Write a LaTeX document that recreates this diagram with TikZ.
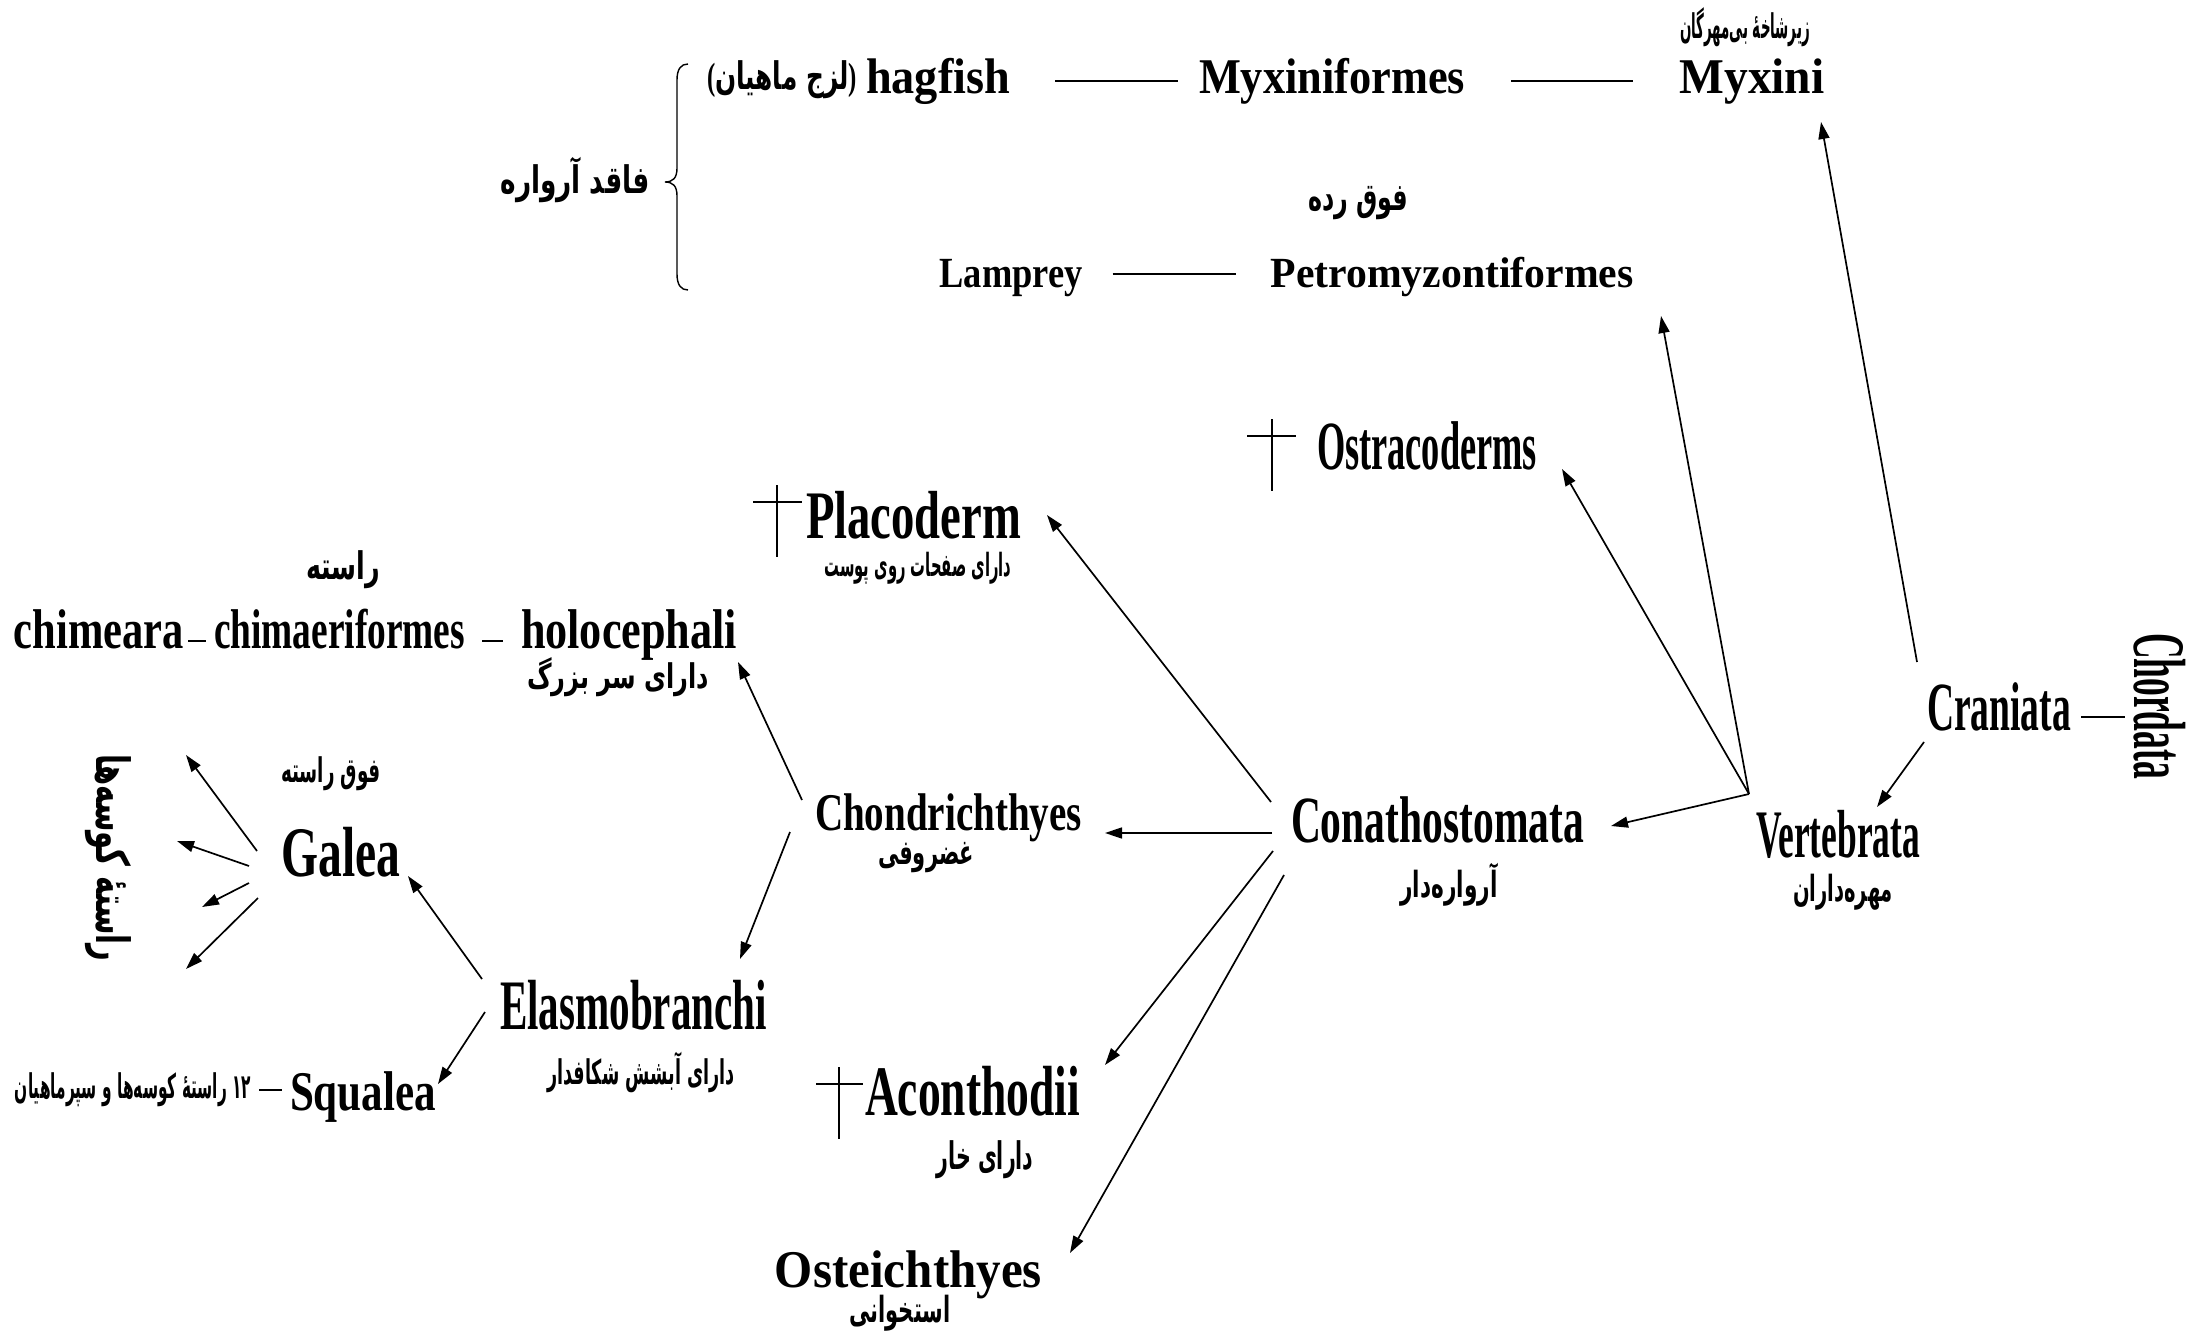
\documentclass[tikz,border=0pt]{standalone}
\usepackage{fontspec}
\usepackage{graphicx}
\setmainfont{Liberation Serif}
\newfontfamily\fa[Script=Arabic]{DejaVu Sans}
\TeXXeTstate=1
\usetikzlibrary{arrows.meta,calc}
\newcommand\LT[3]{\resizebox{#1pt}{\height}{\fontsize{#2pt}{#2pt}\selectfont\bfseries #3}}
\newcommand\FA[3]{\resizebox{#1pt}{\height}{\fontsize{#2pt}{#2pt}\selectfont\fa\bfseries #3}}
\begin{document}
\begin{tikzpicture}[x=1pt,y=-1pt,
  every node/.style={inner sep=0pt,outer sep=0pt},
  lat/.style={anchor=base},
  fan/.style={anchor=center},
  arr/.style={line width=1.7pt,-{Triangle[length=17pt,width=11pt]}},
  ln/.style={line width=1.7pt},
  dsh/.style={line width=2.4pt},
  dag/.style={line width=1.4pt}]
\fill[white] (0,0) rectangle (2201,1335);
\useasboundingbox (0,0) rectangle (2201,1335);

% top rows
\node[fan] (myxfa) at (1745,27) {\FA{130}{34}{\beginR زیرشاخهٔ بی^^^^200cمهرگان\endR}};
\node[lat] (myxini) at (1752,94) {\LT{145}{50}{Myxini}};
\node[lat] (myxif) at (1332,94) {\LT{266}{50}{Myxiniformes}};
\node[lat] (hagfish) at (938,94) {\LT{144}{50}{hagfish}};
\node[fan] (lazej) at (782,80) {\FA{150}{38}{{\rmfamily\bfseries (}\beginR لزج ماهیان\endR{\rmfamily\bfseries )}}};
\node[fan] (faghed) at (575,180) {\FA{149}{38}{\beginR فاقد آرواره\endR}};
\node[fan] (foghrade) at (1358,203) {\FA{100}{38}{\beginR فوق رده\endR}};
\node[lat] (lamprey) at (1011,287) {\LT{143}{43}{Lamprey}};
\node[lat] (petro) at (1452,287) {\LT{363}{43}{Petromyzontiformes}};

\draw[ln] ($(hagfish.base east)+(45,-13)$) -- ($(myxif.base west)+(-21,-13)$);
\draw[ln] ($(myxif.base east)+(46,-13)$) -- ($(myxini.base west)+(-47,-13)$);
\draw[ln] ($(lamprey.base east)+(30,-13)$) -- ($(petro.base west)+(-35,-13)$);

% brace
\draw[line width=1.4pt] (688,64) .. controls (681,64) and (677,69) .. (677,80)
  -- (677,168) .. controls (677,178) and (673,182) .. (665,182)
  .. controls (673,182) and (677,186) .. (677,196)
  -- (677,274) .. controls (677,285) and (681,290) .. (688,290);

% right part
\node[lat] (ostraco) at (1427,469) {\LT{220}{69}{Ostracoderms}};
\node[lat] (craniata) at (1999,730) {\LT{144}{69}{Craniata}};
\node[fan,rotate=-90] (chordata) at (2160,706) {\LT{146}{74}{Chordata}};
\node[lat] (vertebrata) at (1838,857) {\LT{164}{68}{Vertebrata}};
\node[fan] (mohredar) at (1843,892) {\FA{100}{36}{\beginR مهره^^^^200cداران\endR}};
\node[lat] (conat) at (1437.5,842) {\LT{293}{66}{Conathostomata}};
\node[fan] (arvaredar) at (1449,885) {\FA{97}{36}{\beginR آرواره^^^^200cدار\endR}};
\coordinate (hub) at (1749,794);

\draw[ln] ($(craniata.base)+(82,-13)$) -- ($(chordata.center)+(-35,11)$);
\draw[arr] ($(craniata.base)+(-82,-68)$) -- ($(myxini.base)+(69,28)$);
\draw[arr] ($(craniata.base)+(-75,12)$) -- ($(vertebrata.base)+(39,-50)$);
\draw[arr] (hub) -- ($(petro.base)+(209,29)$);
\draw[arr] (hub) -- ($(ostraco.base)+(135,0)$);
\draw[arr] (hub) -- ($(conat.base)+(173.5,-16)$);

% daggers
\draw[dag] (1272,419) -- (1272,491) (1247,436) -- (1296,436);
\draw[dag] (777,485) -- (777,557) (753,502) -- (802,502);
\draw[dag] (839,1067) -- (839,1139) (816,1084) -- (863,1084);

% middle
\node[lat] (placo) at (913.5,538) {\LT{215}{68}{Placoderm}};
\node[fan] (sofhe) at (918,568) {\FA{187}{32}{\beginR دارای صفحات روی پوست\endR}};
\node[lat] (chond) at (948.5,830) {\LT{267}{53}{Chondrichthyes}};
\node[fan] (ghozr) at (926,858) {\FA{96}{34}{\beginR غضروفی\endR}};
\node[lat] (acon) at (972.5,1115) {\LT{215}{71}{Aconthodii}};
\node[fan] (khar) at (985,1160) {\FA{97}{38}{\beginR دارای خار\endR}};
\node[lat] (oste) at (908.5,1287) {\LT{267}{53}{Osteichthyes}};
\node[fan] (ostkh) at (900,1313) {\FA{101}{36}{\beginR استخوانی\endR}};

\draw[arr] ($(conat.base)+(-166.5,-40)$) -- ($(placo.base)+(133.5,-23)$);
\draw[arr] ($(conat.base)+(-165.5,-9)$) -- ($(chond.base)+(156.5,3)$);
\draw[arr] ($(conat.base)+(-164.5,9)$) -- ($(acon.base)+(132.5,-50)$);
\draw[arr] ($(conat.base)+(-153.5,33)$) -- ($(oste.base)+(161.5,-34)$);

% left part
\node[fan] (raste) at (343,570) {\FA{74}{38}{\beginR راسته\endR}};
\node[lat] (chimeara) at (99,648) {\LT{170}{56}{chimeara}};
\node[lat] (chimaer) at (339.5,648) {\LT{251}{56}{chimaeriformes}};
\node[lat] (holo) at (629,648) {\LT{216}{56}{holocephali}};
\node[fan] (saraz) at (618,677) {\FA{182}{34}{\beginR دارای سر بزرگ\endR}};
\draw[dsh] ($(chimeara.base east)+(4,-7)$) -- ($(chimaer.base west)+(-8,-7)$);
\draw[dsh] ($(chimaer.base east)+(17,-7)$) -- ($(holo.base west)+(-18,-7)$);

\node[fan] (foghraste) at (331,774) {\FA{100}{34}{\beginR فوق راسته\endR}};
\node[lat] (galea) at (341,876) {\LT{119}{71}{Galea}};
\node[fan,rotate=-90] (kusevert) at (108,858) {\FA{207}{46}{\beginR راستهٔ کوسه^^^^200cها\endR}};
\node[lat] (elas) at (633.5,1029) {\LT{267}{71}{Elasmobranchi}};
\node[fan] (abshesh) at (641,1072) {\FA{187}{34}{\beginR دارای آبشش شکافدار\endR}};
\node[lat] (squalea) at (363,1110) {\LT{146}{56}{Squalea}};
\node[fan] (kuse) at (133,1090) {\FA{236}{34}{\beginR ۱۲ راستهٔ کوسه^^^^200cها و سپرماهیان\endR}};
\draw[ln] ($(kuse.east)+(8,0)$) -- ($(squalea.base west)+(-8,-20)$);

\draw[arr] ($(chond.base)+(-146.5,-30)$) -- ($(holo.base)+(109,14)$);
\draw[arr] ($(chond.base)+(-158.5,2)$) -- ($(elas.base)+(106.5,-70)$);

\coordinate (ga) at (186,755);
\coordinate (gb) at (177,841);
\coordinate (gc) at (202,907);
\coordinate (gd) at (186,969);
\draw[arr] ($(galea.base)+(-84,-25)$) -- (ga);
\draw[arr] ($(galea.base)+(-92,-10)$) -- (gb);
\draw[arr] ($(galea.base)+(-92,7)$) -- (gc);
\draw[arr] ($(galea.base)+(-83,22)$) -- (gd);

\draw[arr] ($(elas.base)+(-151.5,-50)$) -- ($(galea.base)+(67,0)$);
\draw[arr] ($(elas.base)+(-148.5,-17)$) -- ($(squalea.base)+(75,-26)$);
\end{tikzpicture}
\end{document}
